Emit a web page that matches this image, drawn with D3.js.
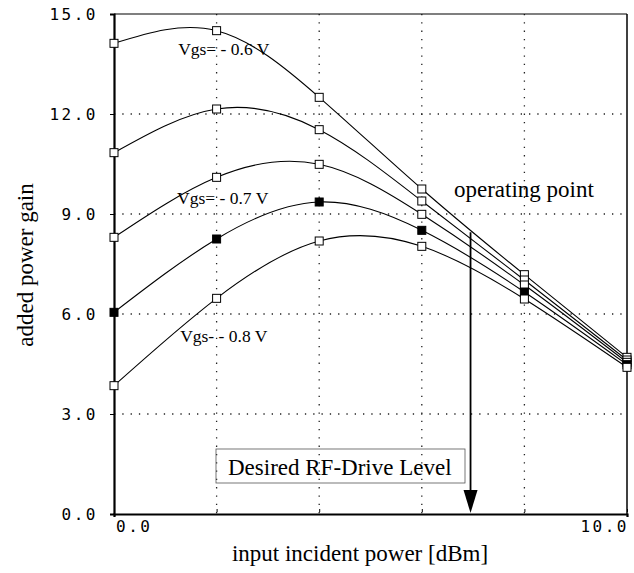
<!DOCTYPE html>
<html><head><meta charset="utf-8">
<script src="https://cdn.jsdelivr.net/npm/d3@7"></script>
<style>
body{margin:0;background:#fff;}
svg{display:block;}
</style></head>
<body>
<svg id="chart" width="634" height="573"></svg>
<script>
const xValues = [0, 2, 4, 6, 8, 10];
const gainVgs06 = [14.12, 14.5, 12.5, 9.75, 7.18, 4.70];
const gainVgs065 = [10.84, 12.15, 11.53, 9.39, 7.02, 4.62];
const gainVgs07 = [8.30, 10.10, 10.49, 8.99, 6.87, 4.55];
const gainVgs075 = [6.05, 8.25, 9.36, 8.51, 6.66, 4.48];
const gainVgs08 = [3.85, 6.47, 8.19, 8.03, 6.45, 4.40];
const seriesFilled = [false, false, false, true, false];
const yTicks = [0, 3, 6, 9, 12, 15];
const xTicks = [0, 2, 4, 6, 8, 10];
const curveLabels = [
  {text: "Vgs= - 0.6 V", x: 1.25, y: 13.78},
  {text: "Vgs= - 0.7 V", x: 1.23, y: 9.3},
  {text: "Vgs- - 0.8 V", x: 1.29, y: 5.16}
];
const operatingPointX = 6.95;
const operatingPointTop = 8.45;

const series = [gainVgs06, gainVgs065, gainVgs07, gainVgs075, gainVgs08];
const svg = d3.select("#chart");
const x = d3.scaleLinear().domain([0, 10]).range([114, 627]);
const y = d3.scaleLinear().domain([0, 15]).range([514, 14]);
const serif = "'Liberation Serif','Times New Roman',serif";
const mono = "'DejaVu Sans Mono',monospace";

// grid
const grid = svg.append("g");
xTicks.slice(1, -1).forEach(t => {
  grid.append("line").attr("x1", x(t)).attr("x2", x(t)).attr("y1", y(15)).attr("y2", y(0))
    .attr("stroke", "#222").attr("stroke-width", 1.3).attr("stroke-dasharray", "1.3,7");
});
yTicks.slice(1, -1).forEach(t => {
  grid.append("line").attr("x1", x(0)).attr("x2", x(10)).attr("y1", y(t)).attr("y2", y(t))
    .attr("stroke", "#222").attr("stroke-width", 1.3).attr("stroke-dasharray", "1.3,7");
});

// frame
svg.append("line").attr("x1", x(0)).attr("x2", x(10)).attr("y1", y(15)).attr("y2", y(15)).attr("stroke", "#000").attr("stroke-width", 1.2);
svg.append("line").attr("x1", x(10)).attr("x2", x(10)).attr("y1", y(15)).attr("y2", y(0)).attr("stroke", "#000").attr("stroke-width", 1.5);

// axes
const yAxis = d3.axisLeft(y).tickValues(yTicks).tickSize(4).tickFormat(d3.format(".1f"));
const ya = svg.append("g").attr("transform", `translate(${x(0)},0)`).call(yAxis);
ya.select(".domain").attr("stroke-width", 2.2);
ya.selectAll("text").attr("font-family", mono).attr("font-size", 16).attr("letter-spacing", "2.5px")
  .attr("x", -16).attr("fill", "#000");
const xAxis = d3.axisBottom(x).tickValues(xTicks).tickSize(3).tickFormat(() => "");
const xa = svg.append("g").attr("transform", `translate(0,${y(0)})`).call(xAxis);
xa.select(".domain").attr("stroke-width", 2.2);
xa.selectAll(".tick line").attr("transform", "translate(0,-5)");
svg.append("text").attr("x", x(0) + 2).attr("y", y(0) + 18).text("0.0")
  .attr("font-family", mono).attr("font-size", 16).attr("letter-spacing", "2.5px");
svg.append("text").attr("x", x(10) + 2).attr("y", y(0) + 18).text("10.0").attr("text-anchor", "end")
  .attr("font-family", mono).attr("font-size", 16).attr("letter-spacing", "2.5px");

// axis titles
svg.append("text").attr("transform", `translate(33,265) rotate(-90)`).attr("text-anchor", "middle")
  .attr("font-family", serif).attr("font-size", 23).text("added power gain");
svg.append("text").attr("x", 360).attr("y", 561).attr("text-anchor", "middle")
  .attr("font-family", serif).attr("font-size", 23).text("input incident power [dBm]");

// curves
const line = d3.line().x((d, i) => x(xValues[i])).y(d => y(d)).curve(d3.curveNatural);
series.forEach((s, k) => {
  svg.append("path").attr("d", line(s)).attr("fill", "none").attr("stroke", "#000").attr("stroke-width", 1.1);
});
series.forEach((s, k) => {
  svg.append("g").selectAll("rect").data(s).join("rect")
    .attr("x", (d, i) => x(xValues[i]) - 4).attr("y", d => y(d) - 4)
    .attr("width", 8).attr("height", 8)
    .attr("fill", seriesFilled[k] ? "#000" : "#fff").attr("stroke", "#000").attr("stroke-width", 1);
});

// curve labels
curveLabels.forEach(l => {
  svg.append("text").attr("x", x(l.x)).attr("y", y(l.y)).attr("font-family", serif).attr("font-size", 17.5)
    .text(l.text);
});

// operating point annotation
svg.append("text").attr("x", 454).attr("y", 197).attr("font-family", serif).attr("font-size", 23).text("operating point");
svg.append("line").attr("x1", x(operatingPointX)).attr("x2", x(operatingPointX))
  .attr("y1", y(operatingPointTop)).attr("y2", y(0) - 20).attr("stroke", "#000").attr("stroke-width", 1.8);
svg.append("path").attr("d", `M${x(operatingPointX) - 7},${y(0) - 24} L${x(operatingPointX) + 7},${y(0) - 24} L${x(operatingPointX)},${y(0) - 1} Z`)
  .attr("fill", "#000");

// desired RF-drive box
svg.append("rect").attr("x", 216).attr("y", 449).attr("width", 249).attr("height", 34)
  .attr("fill", "none").attr("stroke", "#555").attr("stroke-width", 0.8);
svg.append("text").attr("x", 228).attr("y", 475).attr("font-family", serif).attr("font-size", 23)
  .text("Desired RF-Drive Level");
</script>
</body></html>
